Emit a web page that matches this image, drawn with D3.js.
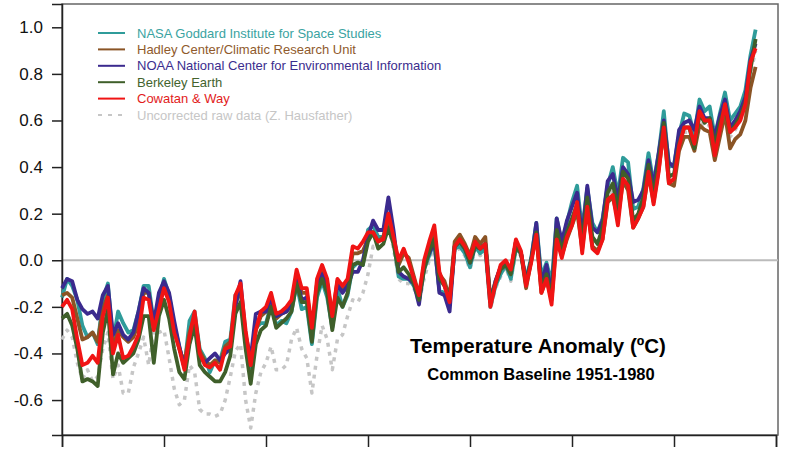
<!DOCTYPE html>
<html>
<head>
<meta charset="utf-8">
<script src="https://cdn.jsdelivr.net/npm/d3@7"></script>
<style>
  body { margin: 0; background: #fff; }
  text { font-family: "Liberation Sans", Arial, Helvetica, sans-serif; }
</style>
</head>
<body>
<script>
// annual anomalies, 1880-2016, common baseline 1951-1980
var years = d3.range(1880, 2017);

var nasa = [
  -0.16,-0.08,-0.11,-0.17,-0.28,-0.33,-0.31,-0.36,-0.17,-0.10,
  -0.35,-0.22,-0.27,-0.31,-0.30,-0.22,-0.11,-0.11,-0.27,-0.17,
  -0.08,-0.15,-0.28,-0.37,-0.46,-0.26,-0.22,-0.38,-0.42,-0.48,
  -0.43,-0.43,-0.35,-0.34,-0.15,-0.13,-0.35,-0.46,-0.29,-0.27,
  -0.27,-0.19,-0.28,-0.26,-0.27,-0.22,-0.10,-0.21,-0.20,-0.36,
  -0.16,-0.09,-0.16,-0.29,-0.12,-0.20,-0.15,-0.03,-0.01,-0.02,
  0.13,0.15,0.10,0.10,0.20,0.09,-0.07,-0.08,-0.08,-0.11,
  -0.17,-0.04,0.02,0.08,-0.13,-0.14,-0.19,0.05,0.06,0.03,
  -0.03,0.06,0.03,0.05,-0.20,-0.11,-0.06,-0.02,-0.08,0.05,
  0.03,-0.08,0.01,0.16,-0.07,-0.01,-0.10,0.18,0.07,0.16,
  0.25,0.32,0.13,0.31,0.16,0.12,0.18,0.32,0.40,0.28,
  0.44,0.42,0.22,0.23,0.31,0.46,0.33,0.46,0.64,0.40,
  0.41,0.54,0.63,0.62,0.54,0.69,0.64,0.66,0.53,0.63,
  0.72,0.60,0.63,0.66,0.73,0.88,0.99
];

var hadcrut = [
  -0.15,-0.14,-0.16,-0.25,-0.34,-0.33,-0.31,-0.35,-0.21,-0.15,
  -0.38,-0.30,-0.33,-0.35,-0.33,-0.27,-0.14,-0.14,-0.29,-0.18,
  -0.12,-0.17,-0.29,-0.38,-0.44,-0.31,-0.24,-0.39,-0.43,-0.45,
  -0.43,-0.44,-0.37,-0.35,-0.19,-0.12,-0.33,-0.43,-0.30,-0.24,
  -0.22,-0.16,-0.25,-0.23,-0.22,-0.19,-0.06,-0.14,-0.14,-0.30,
  -0.10,-0.05,-0.10,-0.24,-0.09,-0.12,-0.10,0.03,0.03,0.04,
  0.09,0.12,0.08,0.10,0.17,0.10,-0.02,0.03,0.01,-0.07,
  -0.15,-0.02,0.05,0.11,-0.06,-0.09,-0.16,0.08,0.11,0.07,
  0.02,0.10,0.07,0.10,-0.17,-0.09,-0.03,-0.01,-0.05,0.08,
  0.03,-0.12,0.00,0.12,-0.14,-0.08,-0.17,0.10,0.02,0.09,
  0.15,0.21,0.05,0.23,0.06,0.04,0.09,0.25,0.27,0.18,
  0.34,0.30,0.14,0.18,0.23,0.37,0.25,0.39,0.56,0.33,
  0.32,0.47,0.53,0.53,0.47,0.58,0.56,0.55,0.43,0.53,
  0.63,0.48,0.52,0.54,0.60,0.74,0.83
];

var noaa = [
  -0.12,-0.08,-0.09,-0.17,-0.21,-0.23,-0.22,-0.25,-0.15,-0.11,
  -0.32,-0.27,-0.32,-0.34,-0.31,-0.22,-0.12,-0.14,-0.27,-0.14,
  -0.09,-0.14,-0.26,-0.37,-0.46,-0.35,-0.27,-0.41,-0.44,-0.42,
  -0.40,-0.43,-0.40,-0.38,-0.20,-0.09,-0.32,-0.42,-0.23,-0.22,
  -0.22,-0.16,-0.24,-0.23,-0.22,-0.19,-0.07,-0.17,-0.16,-0.31,
  -0.11,-0.06,-0.10,-0.26,-0.10,-0.14,-0.11,-0.05,-0.05,0.00,
  0.10,0.17,0.13,0.13,0.27,0.13,-0.05,-0.07,-0.08,-0.10,
  -0.19,-0.02,0.03,0.08,-0.14,-0.15,-0.22,0.06,0.08,0.05,
  -0.01,0.06,0.05,0.07,-0.18,-0.09,-0.03,-0.01,-0.05,0.08,
  0.03,-0.09,0.00,0.16,-0.10,-0.02,-0.15,0.18,0.08,0.17,
  0.23,0.29,0.10,0.32,0.14,0.12,0.17,0.34,0.37,0.26,
  0.40,0.37,0.25,0.26,0.30,0.43,0.32,0.46,0.60,0.42,
  0.40,0.56,0.59,0.60,0.56,0.66,0.61,0.61,0.53,0.62,
  0.69,0.57,0.60,0.64,0.70,0.86,0.93
];

var berkeley = [
  -0.25,-0.23,-0.28,-0.38,-0.52,-0.51,-0.52,-0.54,-0.31,-0.21,
  -0.49,-0.40,-0.44,-0.42,-0.40,-0.34,-0.24,-0.24,-0.44,-0.24,
  -0.17,-0.25,-0.38,-0.48,-0.51,-0.36,-0.28,-0.45,-0.48,-0.50,
  -0.52,-0.52,-0.48,-0.41,-0.23,-0.18,-0.38,-0.53,-0.36,-0.30,
  -0.28,-0.20,-0.29,-0.27,-0.25,-0.22,-0.10,-0.18,-0.18,-0.35,
  -0.14,-0.08,-0.14,-0.30,-0.16,-0.20,-0.14,-0.02,-0.01,-0.02,
  0.08,0.12,0.05,0.07,0.14,0.07,-0.05,-0.03,-0.06,-0.10,
  -0.17,-0.04,0.04,0.09,-0.08,-0.11,-0.17,0.06,0.08,0.05,
  -0.01,0.06,0.05,0.07,-0.18,-0.10,-0.04,-0.02,-0.06,0.06,
  0.03,-0.10,0.00,0.12,-0.12,-0.06,-0.16,0.13,0.04,0.12,
  0.18,0.24,0.08,0.27,0.10,0.07,0.14,0.29,0.33,0.22,
  0.38,0.35,0.17,0.20,0.27,0.41,0.28,0.42,0.59,0.36,
  0.37,0.50,0.57,0.57,0.48,0.63,0.59,0.61,0.49,0.59,
  0.66,0.55,0.58,0.62,0.68,0.82,0.95
];

var cowtanWay = [
  -0.20,-0.17,-0.21,-0.34,-0.45,-0.44,-0.41,-0.44,-0.24,-0.16,
  -0.40,-0.32,-0.42,-0.41,-0.37,-0.32,-0.16,-0.17,-0.30,-0.21,
  -0.12,-0.18,-0.31,-0.38,-0.47,-0.33,-0.22,-0.40,-0.45,-0.46,
  -0.44,-0.47,-0.38,-0.37,-0.15,-0.10,-0.30,-0.45,-0.30,-0.22,
  -0.20,-0.14,-0.23,-0.22,-0.20,-0.17,-0.04,-0.12,-0.12,-0.29,
  -0.08,-0.02,-0.08,-0.24,-0.08,-0.11,-0.08,0.06,0.05,0.08,
  0.12,0.12,0.08,0.09,0.20,0.10,0.00,0.05,-0.01,-0.08,
  -0.15,0.00,0.08,0.15,-0.05,-0.11,-0.18,0.06,0.09,0.06,
  0.01,0.08,0.05,0.07,-0.20,-0.10,-0.02,0.00,-0.04,0.09,
  0.04,-0.11,-0.01,0.11,-0.14,-0.08,-0.19,0.09,0.01,0.10,
  0.15,0.25,0.03,0.23,0.05,0.03,0.09,0.26,0.28,0.15,
  0.35,0.32,0.14,0.18,0.23,0.38,0.24,0.38,0.57,0.33,
  0.35,0.49,0.57,0.57,0.50,0.64,0.60,0.60,0.45,0.56,
  0.67,0.55,0.57,0.60,0.67,0.85,0.91
];

var rawData = [
  -0.34,-0.30,-0.33,-0.44,-0.51,-0.47,-0.52,-0.50,-0.38,-0.31,
  -0.51,-0.45,-0.57,-0.57,-0.46,-0.40,-0.33,-0.45,-0.30,-0.31,
  -0.30,-0.42,-0.55,-0.62,-0.60,-0.45,-0.48,-0.64,-0.66,-0.66,
  -0.67,-0.66,-0.60,-0.50,-0.39,-0.36,-0.60,-0.72,-0.57,-0.48,
  -0.44,-0.37,-0.47,-0.47,-0.45,-0.34,-0.29,-0.38,-0.42,-0.57,
  -0.41,-0.28,-0.34,-0.47,-0.34,-0.32,-0.24,-0.17,-0.18,-0.14,
  -0.06,0.06,0.05,0.07,0.15,0.05,-0.08,-0.10,-0.10,-0.12,
  -0.18,-0.08,0.00,0.06,-0.14,-0.15,-0.20,0.04,0.05,0.02,
  -0.04,0.05,0.02,0.04,-0.21,-0.12,-0.07,-0.03,-0.09,0.04,
  0.02,-0.10,0.00,0.13,-0.10,-0.05,-0.14,0.12,0.03,0.11,
  0.18,0.24,0.07,0.24,0.09,0.06,0.12,0.27,0.30,0.20,
  0.36,0.33,0.16,0.19,0.25,0.38,0.27,0.40,0.57,0.35,
  0.35,0.48,0.55,0.55,0.49,0.61,0.57,0.58,0.47,0.57,
  0.65,0.53,0.56,0.60,0.66,0.80,0.90
];

var seriesNames = [
  "NASA Goddard Institute for Space Studies",
  "Hadley Center/Climatic Research Unit",
  "NOAA National Center for Environmental Information",
  "Berkeley Earth",
  "Cowatan & Way",
  "Uncorrected raw data (Z. Hausfather)"
];
var seriesValues = [nasa, hadcrut, noaa, berkeley, cowtanWay, rawData];
var seriesColors = ["#2f9c9a", "#8a5425", "#3b2a8e", "#3f5f2a", "#f01414", "#c6c6c6"];
var textColors = ["#3aa3a1", "#8f5a2c", "#3b2d8e", "#43632e", "#e21b1b", "#c6c6c6"];

var yTicks = [-0.6, -0.4, -0.2, 0.0, 0.2, 0.4, 0.6, 0.8, 1.0];
var xTicks = [1880, 1900, 1920, 1940, 1960, 1980, 2000, 2020];

var svg_width = 800, svg_height = 450;
var plot_left = 62, plot_right = 778, plot_top = 4, plot_bottom = 435;

var svg = d3.select("body").append("svg")
  .attr("width", svg_width).attr("height", svg_height);

var x = d3.scaleLinear().domain([1880, 2020]).range([plot_left, 776]);
var y = d3.scaleLinear().domain([-0.75, 1.1]).range([plot_bottom, plot_top]);

// frame
svg.append("rect")
  .attr("x", plot_left).attr("y", plot_top)
  .attr("width", plot_right - plot_left).attr("height", plot_bottom - plot_top)
  .attr("fill", "none").attr("stroke", "#666").attr("stroke-width", 1.5);

// zero line
svg.append("line")
  .attr("x1", plot_left).attr("x2", plot_right)
  .attr("y1", y(0)).attr("y2", y(0))
  .attr("stroke", "#bbbbbb").attr("stroke-width", 2);

var yAxis = svg.append("g")
  .attr("transform", "translate(" + plot_left + ",0)")
  .call(d3.axisLeft(y).tickValues(yTicks).tickSize(10).tickPadding(9)
        .tickFormat(function(d) { return d.toFixed(1); }));
yAxis.select(".domain").attr("stroke", "#222").attr("stroke-width", 1.5);
yAxis.selectAll(".tick line").attr("stroke", "#222").attr("stroke-width", 1.5);
yAxis.selectAll(".tick text")
  .style("font-size", "17px").attr("fill", "#111");

var xAxis = svg.append("g")
  .attr("transform", "translate(0," + plot_bottom + ")")
  .call(d3.axisBottom(x).tickValues(xTicks).tickSize(12).tickFormat(""));
xAxis.select(".domain").attr("stroke", "#222").attr("stroke-width", 1.5);
xAxis.selectAll(".tick line").attr("stroke", "#222").attr("stroke-width", 1.5);

var line = d3.line()
  .x(function(d, i) { return x(years[i]); })
  .y(function(d) { return y(d); });

var plot = svg.append("g");
// raw data at the bottom, the rest in legend order
var order = [5, 0, 1, 2, 3, 4];
order.forEach(function(k) {
  plot.append("path")
    .datum(seriesValues[k])
    .attr("d", line)
    .attr("fill", "none")
    .attr("stroke", seriesColors[k])
    .attr("stroke-width", k === 5 ? 3.5 : 3.8)
    .attr("stroke-dasharray", k === 5 ? "4,5" : null)
    .attr("stroke-linejoin", "round");
});

// legend
var legend = svg.append("g");
seriesNames.forEach(function(name, i) {
  var ly = 33 + i * 16.4;
  legend.append("line")
    .attr("x1", 98).attr("x2", 125).attr("y1", ly).attr("y2", ly)
    .attr("stroke", seriesColors[i]).attr("stroke-width", 2)
    .attr("stroke-dasharray", i === 5 ? "4,6" : null);
  legend.append("text")
    .attr("x", 137).attr("y", ly + 4.5)
    .style("font-size", "13px")
    .attr("fill", textColors[i])
    .text(name);
});

svg.append("text")
  .attr("x", 538).attr("y", 353)
  .attr("text-anchor", "middle")
  .style("font-size", "20.5px").style("font-weight", "bold")
  .text("Temperature Anomaly (ºC)");

svg.append("text")
  .attr("x", 541).attr("y", 380)
  .attr("text-anchor", "middle")
  .style("font-size", "16.5px").style("font-weight", "bold")
  .text("Common Baseline 1951-1980");
</script>
</body>
</html>
